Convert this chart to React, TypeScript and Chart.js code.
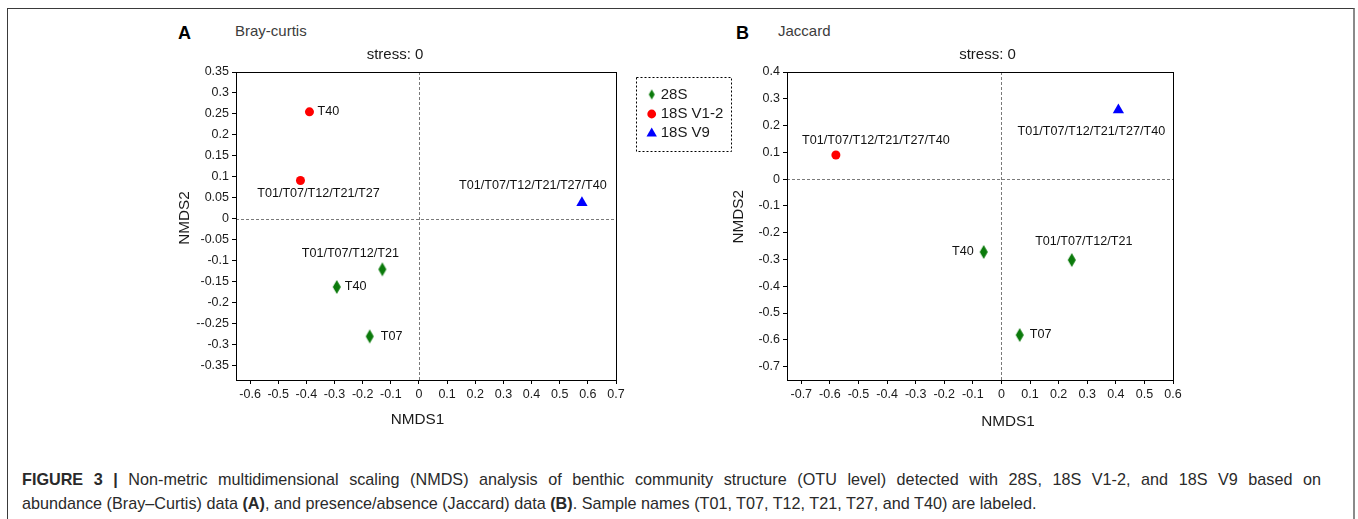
import React, { useEffect, useRef } from 'react';
import { Chart, registerables } from 'chart.js';

Chart.register(...registerables);

const FONT = "'Liberation Sans', Arial, Helvetica, sans-serif";

// ---------- shared ----------
const groupNames = ['28S', '18S V1-2', '18S V9'];
const groupColors = ['#0b7a0b', '#ff0000', '#0000ff'];

// ---------- Panel A: Bray-curtis ----------
const bcX28S = [-0.13, -0.292, -0.175];
const bcY28S = [-0.121, -0.163, -0.281];
const bcLab28S = ['T01/T07/T12/T21', 'T40', 'T07'];
const bcXV12 = [-0.389, -0.421];
const bcYV12 = [0.255, 0.091];
const bcLabV12 = ['T40', 'T01/T07/T12/T21/T27'];
const bcXV9 = [0.579];
const bcYV9 = [0.038];
const bcLabV9 = ['T01/T07/T12/T21/T27/T40'];

const bcXTicks = [-0.6, -0.5, -0.4, -0.3, -0.2, -0.1, 0, 0.1, 0.2, 0.3, 0.4, 0.5, 0.6, 0.7];
const bcXTickLabels = ['-0.6', '-0.5', '-0.4', '-0.3', '-0.2', '-0.1', '0', '0.1', '0.2', '0.3', '0.4', '0.5', '0.6', '0.7'];
const bcYTicks = [0.35, 0.3, 0.25, 0.2, 0.15, 0.1, 0.05, 0, -0.05, -0.1, -0.15, -0.2, -0.25, -0.3, -0.35];
const bcYTickLabels = ['0.35', '0.3', '0.25', '0.2', '0.15', '0.1', '0.05', '0', '-0.05', '-0.1', '-0.15', '-0.2', '--0.25', '-0.3', '-0.35'];

// ---------- Panel B: Jaccard ----------
const jcX28S = [0.246, -0.062, 0.064];
const jcY28S = [-0.302, -0.272, -0.582];
const jcLab28S = ['T01/T07/T12/T21', 'T40', 'T07'];
const jcXV12 = [-0.579];
const jcYV12 = [0.09];
const jcLabV12 = ['T01/T07/T12/T21/T27/T40'];
const jcXV9 = [0.409];
const jcYV9 = [0.258];
const jcLabV9 = ['T01/T07/T12/T21/T27/T40'];

const jcXTicks = [-0.7, -0.6, -0.5, -0.4, -0.3, -0.2, -0.1, 0, 0.1, 0.2, 0.3, 0.4, 0.5, 0.6];
const jcXTickLabels = ['-0.7', '-0.6', '-0.5', '-0.4', '-0.3', '-0.2', '-0.1', '0', '0.1', '0.2', '0.3', '0.4', '0.5', '0.6'];
const jcYTicks = [0.4, 0.3, 0.2, 0.1, 0, -0.1, -0.2, -0.3, -0.4, -0.5, -0.6, -0.7];
const jcYTickLabels = ['0.4', '0.3', '0.2', '0.1', '0', '-0.1', '-0.2', '-0.3', '-0.4', '-0.5', '-0.6', '-0.7'];

// ---------- caption ----------
const captionLine1Rest =
  ' Non-metric multidimensional scaling (NMDS) analysis of benthic community structure (OTU level) detected with 28S, 18S V1-2, and 18S V9 based on';

// ---------- label placement (style, pixels relative to marker) ----------
type Place = { align: CanvasTextAlign; dx: number; dy: number };
const bcPlace: Place[][] = [
  [{ align: 'center', dx: -32, dy: -16 }, { align: 'left', dx: 8, dy: 0 }, { align: 'left', dx: 11, dy: 0 }],
  [{ align: 'left', dx: 8, dy: 0 }, { align: 'center', dx: 18, dy: 13 }],
  [{ align: 'center', dx: -49, dy: -17 }],
];
const jcPlace: Place[][] = [
  [{ align: 'center', dx: 12, dy: -18 }, { align: 'right', dx: -10, dy: 0 }, { align: 'left', dx: 10, dy: 0 }],
  [{ align: 'center', dx: 40, dy: -15 }],
  [{ align: 'center', dx: -27, dy: 21 }],
];

function makeDiamond(w: number, h: number, color: string) {
  const c = document.createElement('canvas');
  c.width = w + 2;
  c.height = h + 2;
  const g = c.getContext('2d')!;
  g.fillStyle = color;
  g.beginPath();
  g.moveTo(c.width / 2, 1);
  g.lineTo(c.width - 1, c.height / 2);
  g.lineTo(c.width / 2, c.height - 1);
  g.lineTo(1, c.height / 2);
  g.closePath();
  g.fill();
  return c;
}

function drawTriangle(ctx: CanvasRenderingContext2D, x: number, y: number, r: number) {
  let rad = 0;
  ctx.beginPath();
  for (let i = 0; i < 3; i++) {
    const px = x + Math.sin(rad) * r;
    const py = y - Math.cos(rad) * r;
    if (i === 0) ctx.moveTo(px, py);
    else ctx.lineTo(px, py);
    rad += (2 * Math.PI) / 3;
  }
  ctx.closePath();
  ctx.fill();
}

type PanelCfg = {
  xs: number[][];
  ys: number[][];
  labels: string[][];
  place: Place[][];
  xMin: number;
  xMax: number;
  yMin: number;
  yMax: number;
  xTicks: number[];
  xTickLabels: string[];
  yTicks: number[];
  yTickLabels: string[];
  yAxisWidth: number;
  padRight: number;
  title: { x: number; y: number };
  xTitle: { x: number; y: number };
  yTitle: { x: number; y: number };
  legend?: { left: number; top: number; right: number; bottom: number; markerX: number; textX: number; rowY: number[] };
};

function labelFor(ticks: number[], labels: string[], v: number) {
  const i = ticks.findIndex((t) => Math.abs(t - v) < 1e-9);
  return i >= 0 ? labels[i] : '';
}

function makeDecor(cfg: PanelCfg, legendDiamond: HTMLCanvasElement) {
  return {
    id: 'panelDecor',
    beforeDatasetsDraw(chart: any) {
      const { ctx, chartArea: ca, scales } = chart;
      const x0 = Math.round(scales.x.getPixelForValue(0)) + 0.5;
      const y0 = Math.round(scales.y.getPixelForValue(0)) + 0.5;
      ctx.save();
      ctx.strokeStyle = '#7a7a7a';
      ctx.lineWidth = 1;
      ctx.setLineDash([3, 2]);
      ctx.beginPath();
      ctx.moveTo(x0, ca.top);
      ctx.lineTo(x0, ca.bottom);
      ctx.moveTo(ca.left, y0);
      ctx.lineTo(ca.right, y0);
      ctx.stroke();
      ctx.setLineDash([]);
      ctx.strokeStyle = '#000';
      const l = Math.round(ca.left) + 0.5;
      const t = Math.round(ca.top) + 0.5;
      const r = Math.round(ca.right) + 0.5;
      const b = Math.round(ca.bottom) + 0.5;
      ctx.strokeRect(l, t, r - l, b - t);
      ctx.restore();
    },
    afterDatasetsDraw(chart: any) {
      const { ctx } = chart;
      ctx.save();
      // point labels
      ctx.fillStyle = '#111';
      ctx.font = `12.6px ${FONT}`;
      ctx.textBaseline = 'middle';
      chart.data.datasets.forEach((_ds: any, di: number) => {
        const meta = chart.getDatasetMeta(di);
        meta.data.forEach((pt: any, pi: number) => {
          const p = cfg.place[di][pi];
          ctx.textAlign = p.align;
          ctx.fillText(cfg.labels[di][pi], pt.x + p.dx, pt.y + p.dy);
        });
      });
      // titles
      ctx.fillStyle = '#1a1a1a';
      ctx.font = `15px ${FONT}`;
      ctx.textAlign = 'center';
      ctx.fillText('stress: 0', cfg.title.x, cfg.title.y);
      ctx.font = `15.3px ${FONT}`;
      ctx.fillText('NMDS1', cfg.xTitle.x, cfg.xTitle.y);
      ctx.save();
      ctx.translate(cfg.yTitle.x, cfg.yTitle.y);
      ctx.rotate(-Math.PI / 2);
      ctx.fillText('NMDS2', 0, 0);
      ctx.restore();
      // legend
      const lg = cfg.legend;
      if (lg) {
        ctx.strokeStyle = '#000';
        ctx.lineWidth = 1;
        ctx.setLineDash([2, 2]);
        ctx.strokeRect(lg.left + 0.5, lg.top + 0.5, lg.right - lg.left, lg.bottom - lg.top);
        ctx.setLineDash([]);
        ctx.font = `15px ${FONT}`;
        ctx.textAlign = 'left';
        chart.data.datasets.forEach((ds: any, di: number) => {
          const y = lg.rowY[di];
          ctx.fillStyle = groupColors[di];
          if (di === 0) {
            ctx.drawImage(legendDiamond, lg.markerX - legendDiamond.width / 2, y - legendDiamond.height / 2);
          } else if (di === 1) {
            ctx.beginPath();
            ctx.arc(lg.markerX, y, 4.4, 0, Math.PI * 2);
            ctx.fill();
          } else {
            drawTriangle(ctx, lg.markerX, y + 1, 6);
          }
          ctx.fillStyle = '#1a1a1a';
          ctx.fillText(ds.label, lg.textX, y);
        });
      }
      ctx.restore();
    },
  };
}

function Panel({ cfg, width, height, left, top }: { cfg: PanelCfg; width: number; height: number; left: number; top: number }) {
  const ref = useRef<HTMLCanvasElement | null>(null);
  useEffect(() => {
    const diamond = makeDiamond(8, 14, groupColors[0]);
    const legendDiamond = makeDiamond(6, 10, groupColors[0]);
    const datasets = cfg.xs.map((xs, i) => ({
      label: groupNames[i],
      data: xs.map((x, j) => ({ x, y: cfg.ys[i][j] })),
      pointStyle: i === 0 ? diamond : i === 1 ? 'circle' : 'triangle',
      pointRadius: i === 1 ? 4.5 : 6.5,
      backgroundColor: groupColors[i],
      borderColor: groupColors[i],
      borderWidth: 0,
      showLine: false,
    }));
    const tickFont = { family: FONT, size: 12.5 };
    const chart = new Chart(ref.current!, {
      type: 'scatter',
      data: { datasets: datasets as any },
      options: {
        animation: false,
        responsive: false,
        events: [],
        layout: { padding: { top: 32, left: 0, right: cfg.padRight, bottom: 0 } },
        plugins: { legend: { display: false }, title: { display: false }, tooltip: { enabled: false } },
        scales: {
          x: {
            type: 'linear',
            min: cfg.xMin,
            max: cfg.xMax,
            afterBuildTicks: (s: any) => {
              s.ticks = cfg.xTicks.map((value) => ({ value }));
            },
            afterFit: (s: any) => {
              s.height = 50;
            },
            ticks: {
              font: tickFont,
              color: '#1a1a1a',
              padding: 3,
              maxRotation: 0,
              autoSkip: false,
              callback: (v: any) => labelFor(cfg.xTicks, cfg.xTickLabels, Number(v)),
            },
            grid: { display: true, drawOnChartArea: false, drawTicks: true, tickLength: 4, color: '#000', tickColor: '#000' },
            border: { display: false },
          },
          y: {
            type: 'linear',
            min: cfg.yMin,
            max: cfg.yMax,
            afterBuildTicks: (s: any) => {
              s.ticks = cfg.yTicks.map((value) => ({ value }));
            },
            afterFit: (s: any) => {
              s.width = cfg.yAxisWidth;
            },
            ticks: {
              font: tickFont,
              color: '#1a1a1a',
              padding: 3,
              autoSkip: false,
              callback: (v: any) => labelFor(cfg.yTicks, cfg.yTickLabels, Number(v)),
            },
            grid: { display: true, drawOnChartArea: false, drawTicks: true, tickLength: 4, color: '#000', tickColor: '#000' },
            border: { display: false },
          },
        },
      },
      plugins: [makeDecor(cfg, legendDiamond) as any],
    });
    return () => chart.destroy();
  }, [cfg]);
  return (
    <canvas
      ref={ref}
      width={width}
      height={height}
      style={{ position: 'absolute', left, top, width, height }}
    />
  );
}

// Panel A canvas at page (150, 40); panel B canvas at page (725, 40)
const cfgA: PanelCfg = {
  xs: [bcX28S, bcXV12, bcXV9],
  ys: [bcY28S, bcYV12, bcYV9],
  labels: [bcLab28S, bcLabV12, bcLabV9],
  place: bcPlace,
  xMin: -0.65,
  xMax: 0.7,
  yMin: -0.385,
  yMax: 0.35,
  xTicks: bcXTicks,
  xTickLabels: bcXTickLabels,
  yTicks: bcYTicks,
  yTickLabels: bcYTickLabels,
  yAxisWidth: 86,
  padRight: 134,
  title: { x: 245, y: 15 },
  xTitle: { x: 267.5, y: 380 },
  yTitle: { x: 34.5, y: 178 },
  legend: { left: 486, top: 37, right: 581, bottom: 111, markerX: 501.7, textX: 510.7, rowY: [54.5, 74, 92.5] },
};

const cfgB: PanelCfg = {
  xs: [jcX28S, jcXV12, jcXV9],
  ys: [jcY28S, jcYV12, jcYV9],
  labels: [jcLab28S, jcLabV12, jcLabV9],
  place: jcPlace,
  xMin: -0.75,
  xMax: 0.6,
  yMin: -0.75,
  yMax: 0.4,
  xTicks: jcXTicks,
  xTickLabels: jcXTickLabels,
  yTicks: jcYTicks,
  yTickLabels: jcYTickLabels,
  yAxisWidth: 62,
  padRight: 185,
  title: { x: 262.5, y: 15 },
  xTitle: { x: 283, y: 382 },
  yTitle: { x: 14, y: 176.7 },
};

const textBase: React.CSSProperties = { position: 'absolute', whiteSpace: 'nowrap', fontFamily: FONT };

export default function App() {
  return (
    <div style={{ position: 'absolute', left: 0, top: 0, width: 1358, height: 519, overflow: 'hidden', background: '#fff', fontFamily: FONT }}>
      <div
        style={{
          position: 'absolute',
          left: 7,
          top: 8,
          width: 1345,
          height: 540,
          borderTop: '1px solid #3a3a3a',
          borderLeft: '1px solid #3a3a3a',
          borderRight: '2px solid #8a8a8a',
        }}
      />
      <div style={{ ...textBase, left: 178, top: 24, fontSize: 18, lineHeight: '18px', fontWeight: 'bold', color: '#000' }}>A</div>
      <div style={{ ...textBase, left: 235, top: 23, fontSize: 15, lineHeight: '15px', color: '#3c3c3c' }}>Bray-curtis</div>
      <div style={{ ...textBase, left: 736, top: 24, fontSize: 18, lineHeight: '18px', fontWeight: 'bold', color: '#000' }}>B</div>
      <div style={{ ...textBase, left: 778, top: 23, fontSize: 15, lineHeight: '15px', color: '#3c3c3c' }}>Jaccard</div>
      <Panel cfg={cfgA} width={600} height={390} left={150} top={40} />
      <Panel cfg={cfgB} width={633} height={390} left={725} top={40} />
      <div
        style={{
          position: 'absolute',
          left: 22,
          top: 467,
          width: 1299,
          fontFamily: FONT,
          fontSize: 16.2,
          lineHeight: '24px',
          color: '#2a2a2a',
          textAlign: 'justify',
          textAlignLast: 'justify',
          whiteSpace: 'normal',
        }}
      >
        <b>FIGURE 3 |</b>
        {captionLine1Rest}
      </div>
      <div style={{ ...textBase, left: 22, top: 491, fontSize: 16.2, lineHeight: '24px', color: '#2a2a2a' }}>
        abundance (Bray–Curtis) data <b>(A)</b>, and presence/absence (Jaccard) data <b>(B)</b>. Sample names (T01, T07, T12, T21, T27, and T40) are labeled.
      </div>
    </div>
  );
}
